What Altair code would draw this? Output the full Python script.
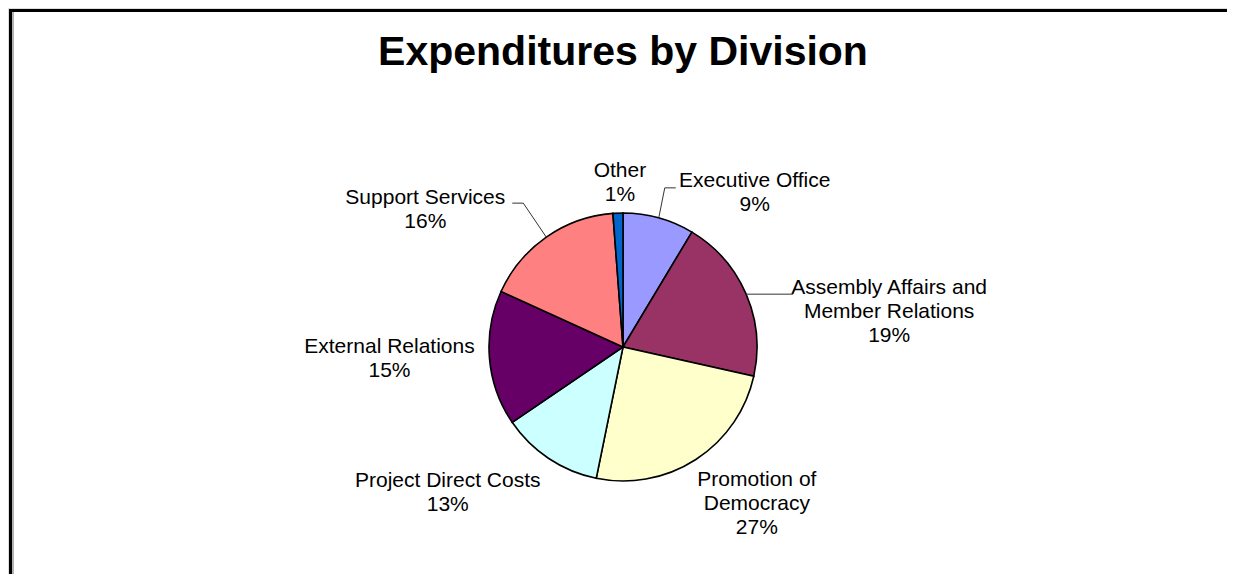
import altair as alt
import pandas as pd

# ---- data ----
categories = ["Executive Office", "Assembly Affairs and Member Relations",
              "Promotion of Democracy", "Project Direct Costs",
              "External Relations", "Support Services", "Other"]
label_names = ["Executive Office", "Assembly Affairs and\nMember Relations",
               "Promotion of\nDemocracy", "Project Direct Costs",
               "External Relations", "Support Services", "Other"]
shares = [8.6, 19.9, 24.7, 12.3, 16.3, 17.0, 1.2]          # slice sizes (as drawn)
pct_labels = ["9%", "19%", "27%", "13%", "15%", "16%", "1%"]  # printed labels
colors = ["#9999FF", "#993366", "#FFFFCC", "#CCFFFF", "#660066", "#FF8080", "#0066CC"]
title_text = "Expenditures by Division"

df = pd.DataFrame({
    "category": categories,
    "share": shares,
    "idx": list(range(len(categories))),
    "label": [n + "\n" + p for n, p in zip(label_names, pct_labels)],
})

# ---- layout / style ----
W, H = 1219, 566
CX, CY, R = 615, 339, 134
FONT = "Liberation Sans"
# offset of the label's first line from the slice's mid-angle point on the rim
label_offsets = {
    "Executive Office": (96, -37),
    "Assembly Affairs and Member Relations": (143, -6),
    "Promotion of Democracy": (61, 21),
    "Project Direct Costs": (-101, 22),
    "External Relations": (-100, -11),
    "Support Services": (-121, -39),
    "Other": (2, -42),
}
# leader lines: (elbow dx, elbow dy, horizontal run)
leaders = {
    "Executive Office": (6, -30, 11),
    "Assembly Affairs and Member Relations": (0, 0, 47),
    "Support Services": (-23, -34, -11),
}

base = alt.Chart(df).transform_window(
    cum="sum(share)", sort=[alt.SortField("idx")], frame=[None, 0]
).transform_joinaggregate(total="sum(share)").transform_calculate(
    mid="2*PI*(datum.cum - datum.share/2)/datum.total"
).transform_calculate(
    ax=f"{CX} + {R}*sin(datum.mid)", ay=f"{CY} - {R}*cos(datum.mid)"
)

pie = alt.Chart(df).mark_arc(radius=R, stroke="black", strokeWidth=1.6).encode(
    theta=alt.Theta("share:Q", stack=True),
    color=alt.Color("category:N", scale=alt.Scale(domain=categories, range=colors), legend=None),
    order=alt.Order("idx:Q"),
    x=alt.value(CX), y=alt.value(CY),
)

layers = [pie]

for cat, (dx, dy) in label_offsets.items():
    layers.append(
        base.transform_filter(alt.datum.category == cat).mark_text(
            font=FONT, fontSize=21, lineBreak="\n", lineHeight=24,
            align="center", baseline="middle", color="black", dx=dx, dy=dy,
        ).encode(
            x=alt.X("ax:Q", scale=None), y=alt.Y("ay:Q", scale=None), text="label:N"
        )
    )

for cat, (ex, ey, run) in leaders.items():
    seg = base.transform_filter(alt.datum.category == cat).transform_calculate(
        bx=f"datum.ax + {ex}", by=f"datum.ay + {ey}"
    ).transform_calculate(cx2=f"datum.bx + {run}")
    layers.append(seg.mark_rule(color="#333333", strokeWidth=1).encode(
        x=alt.X("ax:Q", scale=None), y=alt.Y("ay:Q", scale=None),
        x2="bx:Q", y2="by:Q"))
    layers.append(seg.mark_rule(color="#333333", strokeWidth=1).encode(
        x=alt.X("bx:Q", scale=None), y=alt.Y("by:Q", scale=None),
        x2="cx2:Q", y2="by:Q"))

title = alt.Chart(pd.DataFrame({"t": [title_text]})).mark_text(
    font=FONT, fontSize=41, fontWeight="bold", align="center", baseline="alphabetic", color="black"
).encode(x=alt.value(CX), y=alt.value(57), text="t:N")
layers.append(title)

# frame (left and top), double line like the original
frame_df = pd.DataFrame({"k": [0]})
frame = [
    alt.Chart(frame_df).mark_rule(color="black", strokeWidth=3).encode(
        x=alt.value(2.5), y=alt.value(1), y2=alt.value(H)),
    alt.Chart(frame_df).mark_rule(color="black", strokeWidth=3).encode(
        y=alt.value(2.5), x=alt.value(1), x2=alt.value(W)),
    alt.Chart(frame_df).mark_rule(color="#999999", strokeWidth=1.5).encode(
        x=alt.value(5), y=alt.value(4), y2=alt.value(H)),
]
layers.extend(frame)

chart = alt.layer(*layers).properties(
    width=W, height=H, autosize=alt.AutoSizeParams(type="none"), padding=0
).configure_view(stroke=None).configure(background="white")

chart.save("out.html", embed_options={"renderer": "svg", "actions": False})
